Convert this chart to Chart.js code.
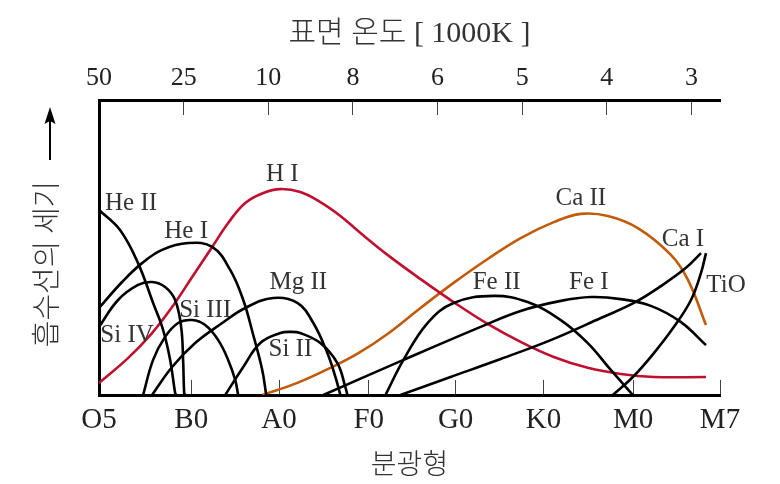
<!DOCTYPE html>
<html>
<head>
<meta charset="utf-8">
<script src="https://cdn.jsdelivr.net/npm/chart.js@4/dist/chart.umd.min.js"></script>
<style>
  html, body { margin: 0; padding: 0; background: #fff; }
  #wrap { width: 780px; height: 484px; }
</style>
</head>
<body>
<div id="wrap"><canvas id="c" width="780" height="484"></canvas></div>
<script>
// Spectral classes on the bottom axis and where they sit on the class scale
const spectralTypes = ['O5', 'B0', 'A0', 'F0', 'G0', 'K0', 'M0', 'M7'];
const spectralPos   = [0, 1.04, 2.03, 3.04, 4.02, 5.01, 6.02, 7];

// Surface temperature (in 1000 K) on the top axis
const tempLabels = ['50', '25', '10', '8', '6', '5', '4', '3'];
const tempPos    = [0, 0.954, 1.908, 2.862, 3.816, 4.77, 5.724, 6.678];

// Relative line strength (0-100) against spectral class position
const heII  = [[0,62.7],[0.237,55.9],[0.44,44.7],[0.61,31.2],[0.723,22.0],[0.802,11.9],[0.858,0.7],[0.869,0]];
const heI   = [[0,29.5],[0.26,38.3],[0.485,44.7],[0.711,49.2],[1.005,51.5],[1.276,50.2],[1.479,42.4],[1.626,32.2],[1.739,20.3],[1.84,8.5],[1.885,0]];
const siIV  = [[0,23.1],[0.215,32.2],[0.44,37.3],[0.598,38.3],[0.745,36.6],[0.858,32.2],[0.926,23.1],[0.948,11.9],[0.96,0.7],[0.97,0]];
const siIII = [[0.497,0],[0.61,11.9],[0.745,19.7],[0.892,24.4],[1.05,25.4],[1.197,23.7],[1.344,18.6],[1.456,11.9],[1.535,5.1],[1.569,0]];
const mgII  = [[0.598,0],[0.824,9.5],[1.084,17.6],[1.389,24.4],[1.648,29.5],[1.965,32.9],[2.236,31.2],[2.416,24.4],[2.574,14.2],[2.665,6.1],[2.721,0]];
const siII  = [[1.423,0],[1.626,9.5],[1.818,17.6],[2.044,21.0],[2.157,21.4],[2.269,21.0],[2.495,17.6],[2.687,10.8],[2.777,2.7],[2.8,0]];
const hI    = [[0,4.1],[0.327,12.5],[0.598,21.0],[0.824,29.8],[1.05,40.0],[1.276,50.2],[1.456,58.3],[1.648,65.1],[1.852,68.5],[2.044,69.8],[2.269,68.8],[2.495,65.4],[2.721,60.7],[2.947,54.9],[3.252,47.5],[3.624,39.3],[3.997,31.5],[4.381,24.1],[4.753,18.0],[5.126,12.9],[5.51,9.2],[5.882,7.1],[6.255,6.1],[6.842,6.1]];
const caII  = [[1.84,0],[2.236,4.1],[2.608,9.2],[2.924,14.2],[3.252,20.7],[3.624,29.5],[3.997,38.0],[4.381,46.1],[4.753,53.2],[5.126,58.6],[5.431,61.4],[5.736,60.7],[6.074,56.6],[6.447,47.5],[6.639,39.0],[6.842,23.7]];
const feII  = [[3.229,0],[3.432,11.9],[3.703,24.4],[3.997,31.2],[4.448,33.6],[4.832,31.5],[5.205,25.4],[5.51,17.6],[5.769,8.5],[6.018,0]];
const feI   = [[2.529,0],[3.432,11.9],[4.302,23.1],[4.753,28.5],[5.205,31.9],[5.544,33.2],[5.882,32.5],[6.221,30.2],[6.56,24.7],[6.842,16.9]];
const caI   = [[3.398,0],[3.963,6.1],[4.527,12.2],[5.092,18.6],[5.657,26.1],[6.029,31.2],[6.334,36.9],[6.616,43.1],[6.786,48.1]];
const tiO   = [[5.792,0],[6.018,6.1],[6.255,14.2],[6.481,23.1],[6.673,32.2],[6.786,41.4],[6.842,48.1]];

const INK = '#000';
const RED = '#bf1030';
const ORANGE = '#c25a08';

function series(label, pts, color, labelAt) {
  return {
    label,
    data: pts.map(([x, y]) => ({ x, y })),
    borderColor: color,
    borderWidth: 2.6,
    pointRadius: 0,
    fill: false,
    tension: 0.4,
    labelAt
  };
}

// Names of the absorption lines written next to their curves
const lineLabels = {
  id: 'lineLabels',
  afterDatasetsDraw(chart) {
    const { ctx, scales: { x, y } } = chart;
    ctx.save();
    ctx.font = '25px "Liberation Serif", serif';
    ctx.fillStyle = '#333';
    ctx.textAlign = 'center';
    ctx.textBaseline = 'middle';
    chart.data.datasets.forEach(ds => {
      const [lx, ly] = ds.labelAt;
      ctx.fillText(ds.label, x.getPixelForValue(lx), y.getPixelForValue(ly));
    });
    ctx.restore();
  }
};

// Vertical axis caption with an upward arrow
const yCaption = {
  id: 'yCaption',
  afterDraw(chart) {
    const { ctx } = chart;
    ctx.save();
    ctx.fillStyle = '#333';
    ctx.translate(46, 264);
    ctx.rotate(-Math.PI / 2);
    ctx.font = '300 29px "Noto Sans CJK KR", sans-serif';
    ctx.textAlign = 'center';
    ctx.textBaseline = 'middle';
    ctx.fillText('흡수선의 세기', 0, 0);
    ctx.restore();

    ctx.save();
    ctx.strokeStyle = '#000';
    ctx.fillStyle = '#000';
    ctx.lineWidth = 2;
    ctx.beginPath();
    ctx.moveTo(50, 160);
    ctx.lineTo(50, 120);
    ctx.stroke();
    ctx.beginPath();
    ctx.moveTo(50, 107);
    ctx.lineTo(44.5, 124);
    ctx.lineTo(50, 121);
    ctx.lineTo(55.5, 124);
    ctx.closePath();
    ctx.fill();
    ctx.restore();
  }
};

const serif = '"Liberation Serif", "Noto Sans CJK KR", serif';

new Chart(document.getElementById('c'), {
  type: 'line',
  data: {
    datasets: [
      series('He II', heII, INK, [0.361, 65.1]),
      series('He I', heI, INK, [0.982, 55.3]),
      series('Si IV', siIV, INK, [0.316, 20.3]),
      series('Si III', siIII, INK, [1.197, 28.8]),
      series('Mg II', mgII, INK, [2.247, 38.0]),
      series('Si II', siII, INK, [2.157, 15.3]),
      series('Fe II', feII, INK, [4.482, 38.3]),
      series('Fe I', feI, INK, [5.521, 38.3]),
      series('Ca I', caI, INK, [6.582, 52.9]),
      series('TiO', tiO, INK, [7.068, 37.3]),
      series('H I', hI, RED, [2.066, 74.6]),
      series('Ca II', caII, ORANGE, [5.431, 66.8])
    ]
  },
  options: {
    responsive: false,
    devicePixelRatio: 1,
    animation: false,
    layout: { padding: { left: 0, right: 60, top: 0, bottom: 0 } },
    plugins: { legend: { display: false }, tooltip: { enabled: false } },
    scales: {
      x: {
        type: 'linear',
        position: 'bottom',
        min: 0,
        max: 7,
        afterBuildTicks: s => { s.ticks = spectralPos.map(v => ({ value: v })); },
        afterFit: s => { s.height = 89; },
        ticks: {
          callback: (v, i) => spectralTypes[i],
          font: { family: serif, size: 29 },
          color: '#222',
          padding: 23,
          maxRotation: 0,
          autoSkip: false
        },
        grid: { display: true, drawOnChartArea: false, drawTicks: true, tickLength: -15, color: '#444', lineWidth: 1 },
        border: { display: true, color: '#000', width: 3 },
        title: {
          display: true,
          text: '분광형',
          font: { family: '"Noto Sans CJK KR", sans-serif', size: 28, weight: '300' },
          color: '#333',
          padding: { top: 0, bottom: 4 }
        }
      },
      xTop: {
        type: 'linear',
        position: 'top',
        min: 0,
        max: 7,
        afterBuildTicks: s => { s.ticks = tempPos.map(v => ({ value: v })); },
        afterFit: s => { s.height = 100; },
        ticks: {
          callback: (v, i) => tempLabels[i],
          font: { family: serif, size: 26 },
          color: '#222',
          padding: 21,
          maxRotation: 0,
          autoSkip: false
        },
        grid: { display: true, drawOnChartArea: false, drawTicks: true, tickLength: -15, color: '#444', lineWidth: 1 },
        border: { display: true, color: '#000', width: 3 },
        title: {
          display: true,
          text: '표면 온도 [ 1000K ]',
          font: { family: serif, size: 30, weight: '300' },
          color: '#333',
          padding: { top: 16, bottom: 0 }
        }
      },
      y: {
        min: 0,
        max: 100,
        afterFit: s => { s.width = 99; },
        ticks: { display: false },
        grid: { display: false },
        border: { display: true, color: '#000', width: 3 }
      }
    }
  },
  plugins: [lineLabels, yCaption]
});
</script>
</body>
</html>
